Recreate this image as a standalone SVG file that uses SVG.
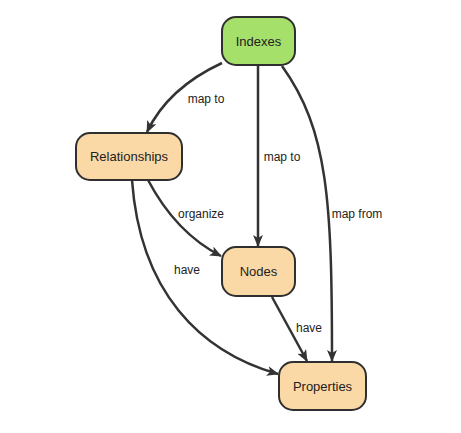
<svg xmlns="http://www.w3.org/2000/svg" width="461" height="433" viewBox="0 0 461 433">
<style>
.node rect{stroke:#2f2f2f;stroke-width:2}
.green{fill:#a5e06a}
.orange{fill:#fbd9a6}
.ntext{font-family:"Liberation Sans",Arial,sans-serif;font-size:13px;fill:#222;text-anchor:middle;dominant-baseline:central}
.edge{fill:none;stroke:#333;stroke-width:2.5}
.lbl{font-family:"Liberation Sans",Arial,sans-serif;font-size:12px;fill:#222;text-anchor:middle;dominant-baseline:central}
</style>
<defs>
<marker id="arr" viewBox="0 0 12 10" refX="11" refY="5" markerWidth="12" markerHeight="10" markerUnits="userSpaceOnUse" orient="auto">
<path d="M0,0 L12,5 L0,10 L3,5 Z" fill="#333"/>
</marker>
</defs>
<rect width="461" height="433" fill="#fff"/>
<g id="connectors">
<path class="edge" d="M222,63 Q168,88 147,132" marker-end="url(#arr)"/>
<path class="edge" d="M258,66 L258,246" marker-end="url(#arr)"/>
<path class="edge" d="M282,66 C328,130 332,200 332,361" marker-end="url(#arr)"/>
<path class="edge" d="M148,180 Q176,233 221,256" marker-end="url(#arr)"/>
<path class="edge" d="M132,180 C140,292 200,352 278,374" marker-end="url(#arr)"/>
<path class="edge" d="M272,297 L307,361" marker-end="url(#arr)"/>
<text class="lbl" x="206" y="99">map to</text>
<text class="lbl" x="282" y="157">map to</text>
<text class="lbl" x="357" y="214">map from</text>
<text class="lbl" x="201" y="214">organize</text>
<text class="lbl" x="187" y="270">have</text>
<text class="lbl" x="309" y="328">have</text>
</g>
<g id="indexes" class="node"><rect class="green" x="222" y="17" width="73" height="48" rx="14"/><text class="ntext" x="258.5" y="41">Indexes</text></g>
<g id="relationships" class="node"><rect class="orange" x="76" y="133" width="106" height="47" rx="14"/><text class="ntext" x="129" y="156.5">Relationships</text></g>
<g id="nodes" class="node"><rect class="orange" x="222" y="247" width="73" height="49" rx="14"/><text class="ntext" x="258.5" y="271.5">Nodes</text></g>
<g id="properties" class="node"><rect class="orange" x="279" y="362" width="87" height="48" rx="14"/><text class="ntext" x="322.5" y="386">Properties</text></g>
</svg>
